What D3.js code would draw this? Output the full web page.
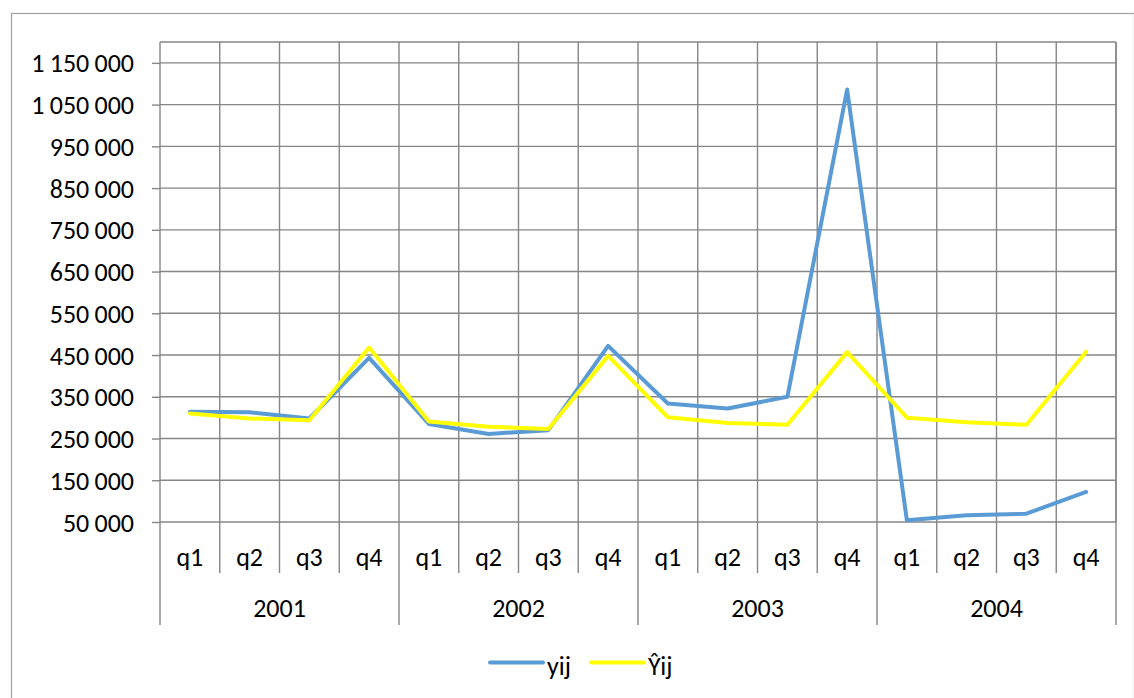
<!DOCTYPE html>
<html>
<head>
<meta charset="utf-8">
<script src="https://cdn.jsdelivr.net/npm/d3@7"></script>
<style>
  html, body { margin: 0; padding: 0; background: #fff; }
  svg { display: block; font-family: Carlito, Calibri, Lato, "Open Sans", sans-serif; }
</style>
</head>
<body>
<svg id="chart" width="1134" height="698"></svg>
<script>
// Quarterly observations and fitted values, 2001–2004
const years = ["2001", "2002", "2003", "2004"];
const quarters = ["q1", "q2", "q3", "q4"];
const yij = [
  314000, 313000, 298000, 443000,
  285000, 261000, 270000, 472000,
  334000, 322000, 350000, 1086000,
  54000, 66000, 70000, 122000
];
const yHat = [
  310000, 298000, 294000, 468000,
  291000, 278000, 273000, 448000,
  301000, 287000, 283000, 457000,
  300000, 289000, 283000, 458000
];
const yTicks = [50000, 150000, 250000, 350000, 450000, 550000, 650000, 750000, 850000, 950000, 1050000, 1150000];
const yDomain = [50000, 1200000];
const seriesNames = ["yij", "Ŷij"];
const seriesColors = ["#5B9BD5", "#FFFF00"];

const svg = d3.select("#chart");
const W = 1134, H = 698;
const plot = { left: 160, right: 1116, top: 42, bottom: 522 };
const gridColor = "#868686";

// Outer chart frame
svg.append("rect")
  .attr("x", 11.5).attr("y", 13.5)
  .attr("width", W - 11).attr("height", H)
  .attr("fill", "#fff").attr("stroke", "#a6a6a6").attr("stroke-width", 1.3);

// Category keys: one per quarter of each year
const cats = [];
years.forEach(y => quarters.forEach(q => cats.push(y + "-" + q)));

const x = d3.scaleBand().domain(cats).range([plot.left, plot.right]).padding(0);
const y = d3.scaleLinear().domain(yDomain).range([plot.bottom, plot.top]);

// Space-grouped thousands (thin space)
const fmt = d3.formatLocale({ decimal: ",", thousands: "\u2009", grouping: [3], currency: ["", ""] }).format(",");

// Horizontal gridlines and y axis labels
const yAxis = d3.axisLeft(y)
  .tickValues(yTicks)
  .tickFormat(fmt)
  .tickSize(8)
  .tickPadding(18);
const gy = svg.append("g").attr("transform", `translate(${plot.left},0)`).call(yAxis);
gy.select(".domain").remove();
gy.selectAll(".tick line").attr("stroke", gridColor).attr("stroke-width", 1.4);
gy.selectAll(".tick text")
  .attr("fill", "#000")
  .attr("dy", "0.35em")
  .style("font-family", "Carlito, Calibri, Lato, sans-serif")
  .style("font-size", "26px");

svg.append("g").selectAll("line")
  .data(yTicks.concat([yDomain[1]]))
  .join("line")
  .attr("x1", plot.left).attr("x2", plot.right)
  .attr("y1", d => y(d)).attr("y2", d => y(d))
  .attr("stroke", gridColor).attr("stroke-width", 1.4);

// Vertical gridlines at category boundaries, extended as axis dividers
const bounds = d3.range(cats.length + 1).map(i => plot.left + i * x.bandwidth());
svg.append("g").selectAll("line")
  .data(bounds)
  .join("line")
  .attr("x1", d => d).attr("x2", d => d)
  .attr("y1", plot.top)
  .attr("y2", (d, i) => (i % 4 === 0 ? 625 : 573))
  .attr("stroke", gridColor).attr("stroke-width", 1.4);

// Right edge of the plot area stays within the plot
svg.append("line")
  .attr("x1", plot.right).attr("x2", plot.right)
  .attr("y1", plot.top).attr("y2", plot.bottom)
  .attr("stroke", gridColor).attr("stroke-width", 1.4);

// Quarter labels
svg.append("g").selectAll("text")
  .data(cats)
  .join("text")
  .attr("x", d => x(d) + x.bandwidth() / 2)
  .attr("y", 566)
  .attr("text-anchor", "middle")
  .style("font-size", "26px")
  .text(d => d.split("-")[1]);

// Year labels
svg.append("g").selectAll("text")
  .data(years)
  .join("text")
  .attr("x", d => (x(d + "-q1") + x(d + "-q4") + x.bandwidth()) / 2)
  .attr("y", 617)
  .attr("text-anchor", "middle")
  .style("font-size", "26px")
  .text(d => d);

// Series lines
const line = d3.line()
  .x((d, i) => x(cats[i]) + x.bandwidth() / 2)
  .y(d => y(d));

[yij, yHat].forEach((vals, k) => {
  svg.append("path")
    .datum(vals)
    .attr("d", line)
    .attr("fill", "none")
    .attr("stroke", seriesColors[k])
    .attr("stroke-width", 4)
    .attr("stroke-linejoin", "round")
    .attr("stroke-linecap", "round");
});

// Legend
const legendItems = [
  { name: seriesNames[0], color: seriesColors[0], x: 490 },
  { name: seriesNames[1], color: seriesColors[1], x: 591 }
];
const lg = svg.append("g");
legendItems.forEach(it => {
  lg.append("line")
    .attr("x1", it.x).attr("x2", it.x + 53)
    .attr("y1", 662.5).attr("y2", 662.5)
    .attr("stroke", it.color).attr("stroke-width", 4)
    .attr("stroke-linecap", "round");
  lg.append("text")
    .attr("x", it.x + 57).attr("y", 675)
    .style("font-size", "26px")
    .text(it.name);
});
</script>
</body>
</html>
